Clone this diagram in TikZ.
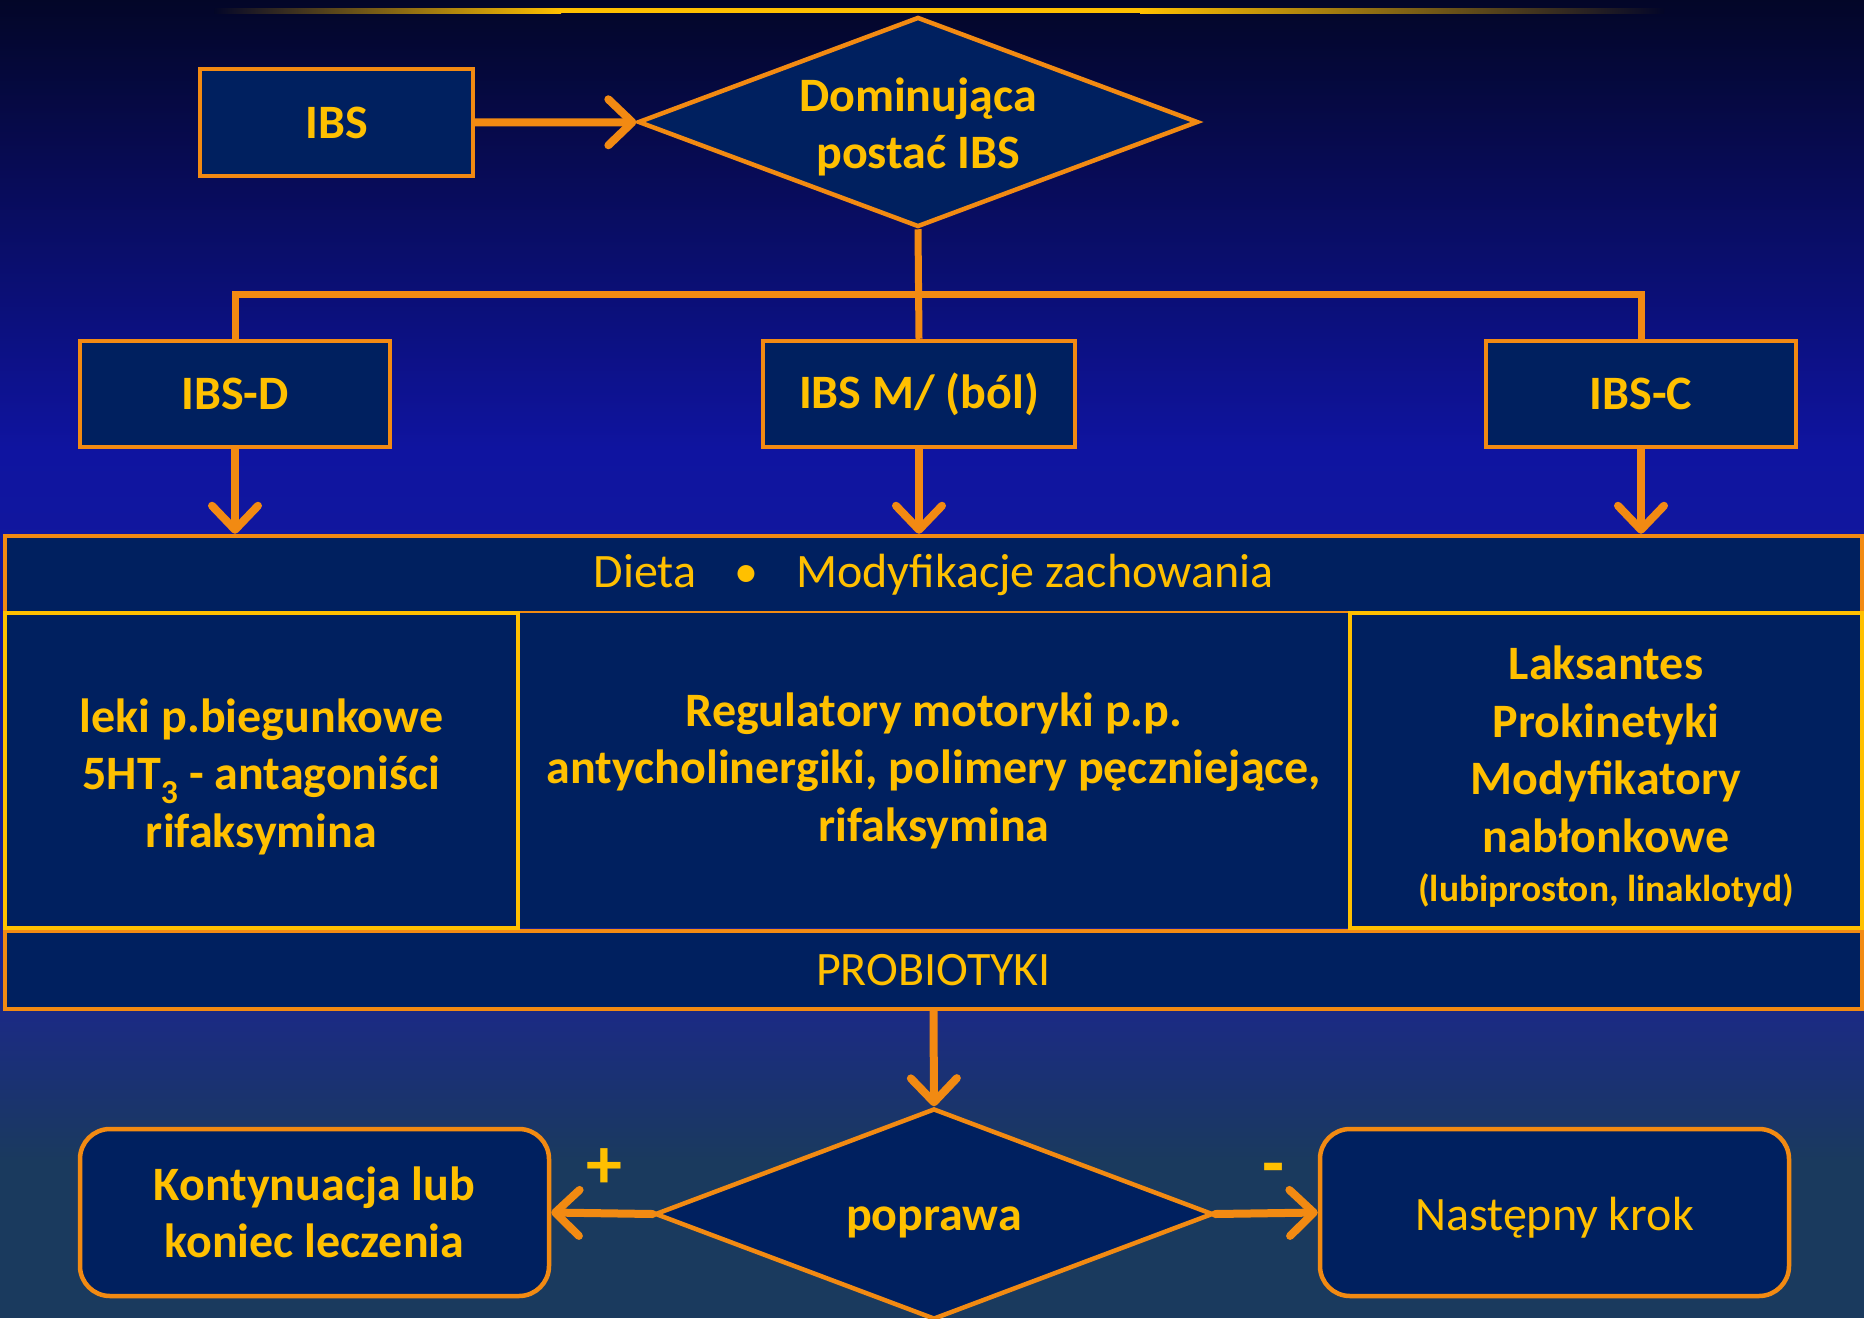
\documentclass[tikz,border=0pt]{standalone}
\usepackage{fontspec}
\setmainfont{Carlito}
\usepackage{tikz}
\usetikzlibrary{arrows.meta,shapes.geometric}
\definecolor{bgtop}{HTML}{030628}
\definecolor{bgmid}{HTML}{0F14A0}
\definecolor{bglow}{HTML}{1B2494}
\definecolor{bgbot}{HTML}{1A3A5E}
\definecolor{boxblue}{HTML}{00205F}
\definecolor{orangeline}{HTML}{F28A12}
\definecolor{gold}{HTML}{FFC000}

\begin{document}
\begin{tikzpicture}[x=1pt,y=-1pt,
  box/.style={draw=orangeline,line width=4.5pt,fill=boxblue,text=gold,align=center,inner sep=0pt,
    font=\bfseries\fontsize{48}{57.5}\selectfont},
  band/.style={box,font=\fontsize{48}{56}\selectfont},
  panel/.style={box,draw=gold,line width=4pt},
  rbox/.style={box,rounded corners=30pt},
  decision/.style={box,shape=diamond,line width=4.5pt},
  bus/.style={draw=orangeline,line width=7pt,line join=miter},
  arr/.style={draw=orangeline,line width=8pt,line cap=round,
    -{Straight Barb[length=24pt,width=46pt,line cap=round,round]}},
  sign/.style={text=gold,font=\bfseries\fontsize{72}{80}\selectfont,inner sep=0pt,anchor=base}]
\useasboundingbox (0,0) rectangle (1864,1318);

\shade[top color=bgtop,bottom color=bgmid] (0,0) rectangle (1864,451);
\shade[top color=bgmid,bottom color=bglow] (0,450) rectangle (1864,951);
\shade[top color=bglow,bottom color=bgbot] (0,950) rectangle (1864,1161);
\fill[bgbot] (0,1160) rectangle (1864,1318);

\shade[left color=bgtop,right color=gold] (214,8) rectangle (561,13);
\fill[gold] (560,8) rectangle (1141,13);
\shade[left color=gold,right color=bgtop] (1140,8) rectangle (1664,13);

\node[box,minimum width=273,minimum height=107] (ibs) at (336.5,122.5) {IBS};
\node[decision,aspect=2.67,minimum width=560,minimum height=210] (dom) at (918,122)
  {\rule{0pt}{44pt}Dominująca\\postać IBS};

\node[box,minimum width=310,minimum height=106] (ibsd) at (235,394) {IBS-D};
\node[box,minimum width=312,minimum height=106] (ibsm) at (919,394) {IBS M/ (ból)};
\node[box,minimum width=310,minimum height=106] (ibsc) at (1641,394) {IBS-C};
\coordinate (bus) at (918,294);

\node[band,minimum width=1857,minimum height=77] (diet) at (933.5,574.5)
  {Dieta\hspace{38pt}\textbullet\hspace{38pt}Modyfikacje zachowania};
\node[band,minimum width=1857,minimum height=78] (probio) at (933.5,970) {PROBIOTYKI};

\node[box,draw=none,minimum width=832,minimum height=315] (mid) at (934,770.5)
  {Regulatory motoryki p.p.\\antycholinergiki, polimery pęczniejące,\\rifaksymina};
\node[panel,minimum width=513,minimum height=315] (left) at (261.5,770.5)
  {\rule{0pt}{46pt}leki p.biegunkowe\\5HT\textsubscript{3} - antagoniści\\rifaksymina};
\node[panel,minimum width=512,minimum height=315] (right) at (1606,770.5)
  {\rule{0pt}{46pt}Laksantes\\Prokinetyki\\Modyfikatory\\nabłonkowe\\[-8pt]{\fontsize{37.5}{44}\selectfont(lubiproston, linaklotyd)}};

\node[decision,aspect=2.64,minimum width=558,minimum height=211] (pop) at (934,1214) {\rule{0pt}{40pt}poprawa};
\node[rbox,minimum width=469,minimum height=167] (cont) at (314.5,1212.5) {Kontynuacja lub\\koniec leczenia};
\node[rbox,font=\fontsize{48}{57}\selectfont,minimum width=469,minimum height=167] (next) at (1554.5,1212.5)
  {\rule{0pt}{44pt}Następny krok};
\node[sign] (plus) at (604,1188) {+};
\node[sign] (minus) at (1274,1187) {-};

\draw[arr] (ibs) -- (dom);
\draw[bus] (dom.south) -- (ibsm.north);
\draw[bus] (ibsd.north) -- (ibsd.north |- bus) -- (ibsc.north |- bus) -- (ibsc.north);
\draw[arr] (ibsd.south) -- (ibsd.south |- diet.north);
\draw[arr] (ibsm.south) -- (ibsm.south |- diet.north);
\draw[arr] (ibsc.south) -- (ibsc.south |- diet.north);
\draw[arr] (probio.south) -- (pop.north);
\draw[arr] (pop.west) -- (cont.east);
\draw[arr] (pop.east) -- (next.west);
\end{tikzpicture}
\end{document}
